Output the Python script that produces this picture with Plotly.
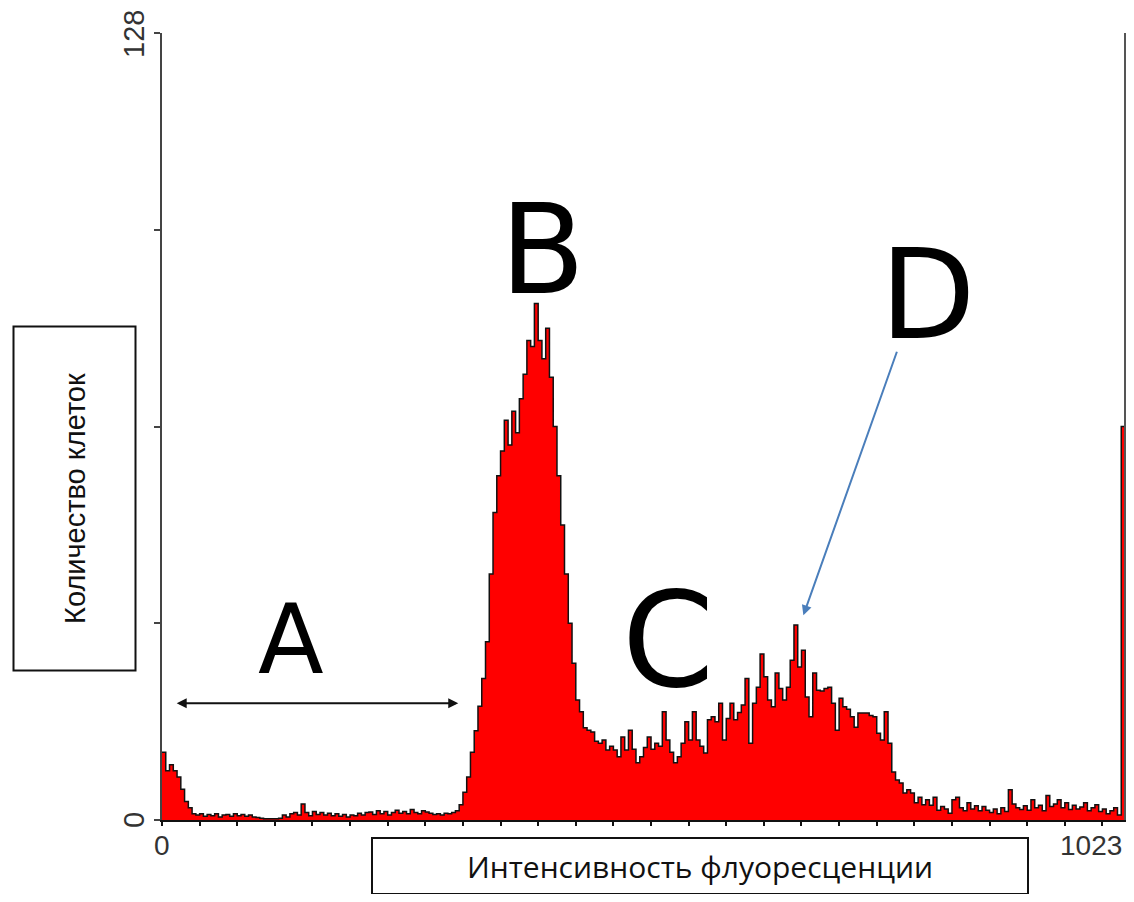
import plotly.graph_objects as go

# ---------------- data ----------------
bin_width = 4  # channels per histogram bin (0..1023 -> 256 bins)
counts = [
    11, 8, 9, 8, 7, 5, 3, 2, 1, 0.8, 1.0, 0.6, 0.9, 0.7, 1.0, 0.5,
    0.8, 0.9, 0.6, 1.0, 0.7, 0.9, 0.6, 0.8, 0.5, 0.4, 0.3, 0.2, 0.2, 0.2, 0.2, 0.3,
    0.8, 0.5, 1.0, 1.2, 0.8, 2.6, 1.2, 0.7, 1.4, 0.9, 1.2, 0.8, 1.1, 0.7, 1.0, 0.6,
    0.9, 0.5, 0.8, 0.7, 1.1, 0.8, 1.2, 1.3, 0.9, 1.5, 1.0, 1.4, 0.8, 1.2, 1.6, 1.1,
    1.4, 1.0, 1.7, 1.2, 1.0, 1.5, 1.3, 1.1, 0.9, 1.0, 0.8, 1.1, 1.0, 1.2, 1.5, 2.5,
    4.5, 7, 11, 14.5, 18.5, 23, 29, 40, 50, 56, 60, 65, 61, 66.5, 63, 68.5,
    72.5, 78, 77, 84, 78, 75, 80, 72, 64, 56, 48, 40, 32, 25.5, 19.5, 17.6,
    15, 14.6, 14.3, 12.8, 12.5, 13, 11.4, 12, 11.4, 10.3, 13.5, 11.4, 14.6, 11.5, 9.3, 10.3,
    11.8, 13.5, 11.5, 12.5, 12, 17.6, 13, 11, 9.3, 10.3, 12.5, 16, 13, 17.6, 13, 12,
    10.9, 16.3, 16.8, 16, 19, 13, 16.5, 19, 16.3, 17.5, 18.7, 23, 12.5, 19, 21.6, 27,
    23.3, 19.5, 18.4, 23.9, 21.4, 19.5, 21.6, 26, 31.7, 24.9, 27.6, 20, 16.8, 23.9, 21.1, 21,
    21.4, 21.6, 19, 14.6, 19.8, 18.4, 18, 16.8, 15.1, 17.4, 17.4, 17.4, 17, 16.8, 14.1, 13,
    17.6, 12.5, 7.8, 6.5, 6, 4.4, 4.9, 4.4, 2.8, 3.7, 2.5, 3.3, 2.4, 3.7, 1.6, 2.2,
    1.8, 1.1, 3.3, 3.7, 2.0, 1.5, 2.8, 1.8, 2.3, 1.5, 2.2, 1.6, 1.2, 1.8, 1.0, 2.0,
    1.4, 4.9, 2.6, 2.0, 1.7, 2.3, 1.6, 3.3, 2.0, 2.4, 1.5, 4.0, 2.2, 2.6, 3.3, 2.0,
    2.8, 1.7, 2.4, 1.8, 2.1, 2.8, 1.5, 2.0, 2.5, 1.4, 1.8, 1.0, 1.5, 2.0, 0.8, 64,
]
channel_start = [i * bin_width for i in range(len(counts))]

x_max = 1024
y_max = 128
x_tick_step = 40
y_tick_vals = [0, 32, 64, 96, 128]
y_end_labels = ["0", "128"]
y_end_values = [0, 128]
x_end_labels = ["0", "1023"]
x_end_values = [0, 1023]

x_title = "Интенсивность флуоресценции"
y_title = "Количество клеток"

region_labels = ["A", "B", "C", "D"]
region_x = [137, 405, 538, 814]
region_y = [29.3, 92.7, 29.3, 85.4]
region_size = [96, 124, 132, 124]

# arrow A (double headed) and arrow D (pointer), in data units
arrow_a = dict(x0=14, x1=315, y=19)
arrow_d = dict(x_tail=782, y_tail=76.4, x_head=682, y_head=33.3)

# ---------------- figure geometry (page px; body has an 8 px margin) ----------------
PAGE_OFFSET = 8
FIG_W, FIG_H = 1134 - 2 * PAGE_OFFSET, 902 - 2 * PAGE_OFFSET
PLOT_L, PLOT_T, PLOT_W, PLOT_H = 162, 33, 963, 787  # page coords of plot area


def paper_x(px):
    return (px - PLOT_L) / PLOT_W


def paper_y(py):
    return (PLOT_T + PLOT_H - py) / PLOT_H


step_x = channel_start + [x_max, x_max]
step_y = counts + [counts[-1], 0]

fig = go.Figure()
fig.add_trace(go.Scatter(
    x=step_x, y=step_y, mode="lines", line=dict(shape="hv", color="#111111", width=1.5),
    fill="tozeroy", fillcolor="#FF0000", hoverinfo="skip", showlegend=False,
))

fig.update_layout(
    width=FIG_W, height=FIG_H,
    margin=dict(l=PLOT_L - PAGE_OFFSET, r=FIG_W - (PLOT_L - PAGE_OFFSET) - PLOT_W,
                t=PLOT_T - PAGE_OFFSET, b=FIG_H - (PLOT_T - PAGE_OFFSET) - PLOT_H,
                autoexpand=False),
    paper_bgcolor="white", plot_bgcolor="white",
    showlegend=False,
)
fig.update_xaxes(
    range=[0, x_max], showgrid=False, zeroline=False,
    showline=True, linecolor="#111111", linewidth=2,
    tickmode="array", tickvals=list(range(0, x_max, x_tick_step)),
    ticks="outside", ticklen=4, tickwidth=2, tickcolor="#111111",
    showticklabels=False,
)
fig.update_yaxes(
    range=[0, y_max], showgrid=False, zeroline=False,
    showline=True, linecolor="#444444", linewidth=2, mirror=True,
    tickmode="array", tickvals=y_tick_vals,
    ticks="outside", ticklen=6, tickwidth=2, tickcolor="#444444",
    showticklabels=False,
)

# right-hand frame line of the plot area
fig.add_shape(type="line", xref="x domain", yref="y domain", x0=1, x1=1, y0=0, y1=1,
              line=dict(color="#555555", width=2), layer="above")

annotations = []
for lab, xv in zip(x_end_labels, x_end_values):
    annotations.append(dict(
        x=xv, y=0, xref="x", yref="y", text=lab, showarrow=False,
        xanchor="center" if xv == 0 else "right", yanchor="top", yshift=-8,
        font=dict(family="Liberation Sans", size=28, color="#333333"),
    ))
for lab, yv in zip(y_end_labels, y_end_values):
    annotations.append(dict(
        x=paper_x(134), y=yv, xref="paper", yref="y", text=lab, showarrow=False,
        xanchor="center", yanchor="middle", textangle=-90,
        yshift=-1 if yv == y_max else 0,
        font=dict(family="Liberation Sans", size=29, color="#333333"),
    ))

# axis title boxes
annotations.append(dict(
    x=paper_x(700), y=paper_y(866), xref="paper", yref="paper",
    text=x_title, showarrow=False, xanchor="center", yanchor="middle",
    width=654, height=54, bordercolor="#111111", borderwidth=2, borderpad=0,
    font=dict(family="Open Sans", size=30, color="#111111"), bgcolor="white",
))
annotations.append(dict(
    x=paper_x(74.5), y=paper_y(499), xref="paper", yref="paper",
    text=y_title, showarrow=False, xanchor="center", yanchor="middle", textangle=-90,
    width=342, height=120, bordercolor="#111111", borderwidth=2, borderpad=0,
    font=dict(family="Liberation Sans", size=29, color="#111111"), bgcolor="white",
))

# region letters
for lab, xv, yv, sz in zip(region_labels, region_x, region_y, region_size):
    annotations.append(dict(
        x=xv, y=yv, xref="x", yref="y", text=lab, showarrow=False,
        xanchor="center", yanchor="middle",
        font=dict(family="DejaVu Sans", size=sz, color="black"),
    ))

# double arrow for A
annotations.append(dict(
    x=arrow_a["x1"], y=arrow_a["y"], ax=arrow_a["x0"], ay=arrow_a["y"],
    xref="x", yref="y", axref="x", ayref="y", text="", showarrow=True,
    arrowhead=2, startarrowhead=2, arrowside="end+start", arrowsize=1, startarrowsize=1,
    arrowwidth=2, arrowcolor="#111111", standoff=0, startstandoff=0,
))
# pointer arrow for D
annotations.append(dict(
    x=arrow_d["x_head"], y=arrow_d["y_head"], ax=arrow_d["x_tail"], ay=arrow_d["y_tail"],
    xref="x", yref="y", axref="x", ayref="y", text="", showarrow=True,
    arrowhead=2, arrowsize=1, arrowwidth=2, arrowcolor="#4A7EBB", standoff=0,
))
fig.update_layout(annotations=annotations)

fig.write_html("out.html")
